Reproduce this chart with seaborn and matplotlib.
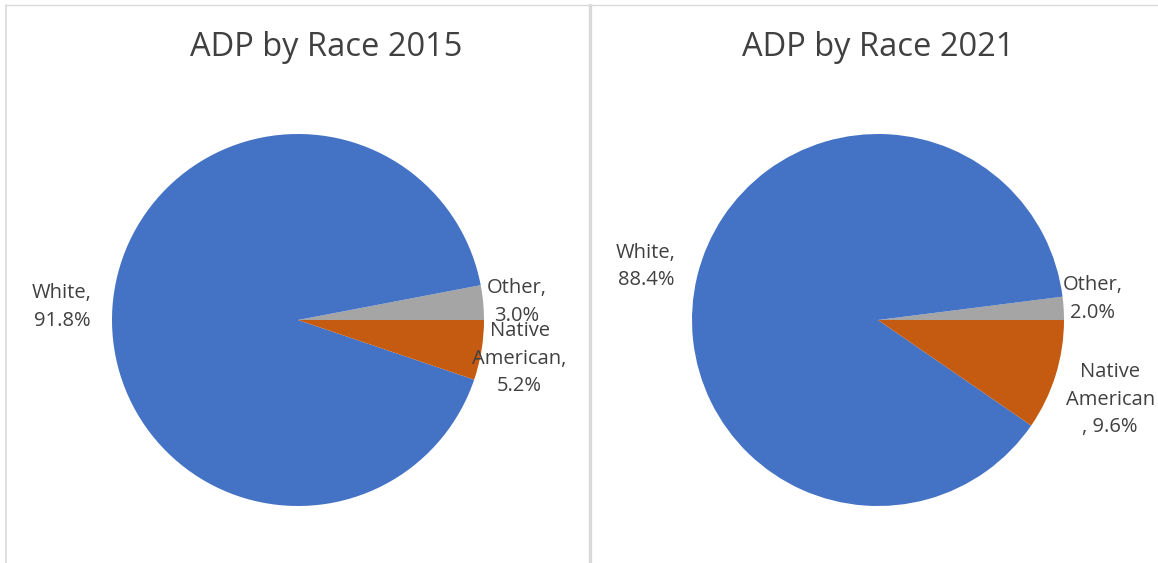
import matplotlib
matplotlib.use("Agg")
import matplotlib.pyplot as plt
from matplotlib.lines import Line2D
import numpy as np
import seaborn as sns

sns.set_theme(style="white")
plt.rcParams['font.family'] = ['Open Sans', 'DejaVu Sans']

# Data
categories = ["Other", "White", "Native American"]
values_2015 = [3.0, 91.8, 5.2]
values_2021 = [2.0, 88.4, 9.6]
labels_2015 = ["Other,\n3.0%", "White,\n91.8%", "Native\nAmerican,\n5.2%"]
labels_2021 = ["Other,\n2.0%", "White,\n88.4%", "Native\nAmerican\n, 9.6%"]
titles = ["ADP by Race 2015", "ADP by Race 2021"]

colors = ["#A5A5A5", "#4472C4", "#C55A11"]
text_color = "#404040"

W, H = 1158, 563
fig = plt.figure(figsize=(W / 100, H / 100), dpi=100)
fig.patch.set_facecolor("white")

R = 186  # pie radius in px
L = 1.5

def add_pie(cx, cy, vals, labs, title, tx, dists, angle_offsets):
    size = 2 * L * R
    ax = fig.add_axes([(cx - size / 2) / W, (H - cy - size / 2) / H, size / W, size / H])
    wedges, _ = ax.pie(vals, colors=colors, startangle=0, counterclock=True,
                       wedgeprops=dict(linewidth=0))
    ax.set_xlim(-L, L)
    ax.set_ylim(-L, L)
    ax.set_aspect("equal")
    ax.axis("off")
    for w, lab, d, off in zip(wedges, labs, dists, angle_offsets):
        ang = np.deg2rad((w.theta1 + w.theta2) / 2 + off)
        ax.text(d * np.cos(ang), d * np.sin(ang), lab, ha="center", va="center",
                fontsize=14.5, color=text_color, linespacing=1.5, clip_on=False)
    fig.text(tx / W, 1 - 47 / H, title, ha="center", va="center",
             fontsize=23.5, color=text_color)

add_pie(298, 320, values_2015, labels_2015, titles[0], 326,
        [1.18, 1.27, 1.21], [-0.7, 0.8, -0.6])
add_pie(878, 320, values_2021, labels_2021, titles[1], 878,
        [1.16, 1.28, 1.32], [2.0, 0.7, -1.7])

# Panel borders
def fline(x0, y0, x1, y1, lw=1.0, c="#D9D9D9"):
    fig.add_artist(Line2D([x0 / W, x1 / W], [1 - y0 / H, 1 - y1 / H],
                          transform=fig.transFigure, color=c, linewidth=lw))

fline(6, 5, W, 5, lw=1.0)
fline(6, 5, 6, H, lw=1.2)
fline(590, 5, 590, H, lw=2.4)

fig.savefig("out.png", dpi=100, facecolor="white")
